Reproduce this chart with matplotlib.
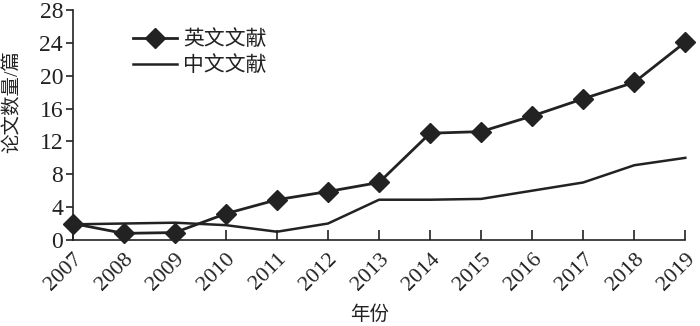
import matplotlib

matplotlib.use("Agg")
import matplotlib.pyplot as plt

plt.rcParams["font.family"] = ["Liberation Serif", "Noto Sans CJK SC"]

years = [2007, 2008, 2009, 2010, 2011, 2012, 2013, 2014, 2015, 2016, 2017, 2018, 2019]
english = [2.0, 0.8, 0.9, 3.2, 4.9, 5.9, 7.0, 13.0, 13.2, 15.1, 17.2, 19.2, 24.1]
chinese = [1.9, 2.0, 2.1, 1.8, 1.0, 2.0, 4.9, 4.9, 5.0, 6.0, 7.0, 9.1, 10.0]
y_ticks = [0, 4, 8, 12, 16, 20, 24, 28]

ink = "#222222"

fig = plt.figure(figsize=(7.0, 3.26), dpi=100)
ax = fig.add_axes([0.104, 0.264, 0.875, 0.705])

ax.plot(years, english, color=ink, lw=2.0, marker="D", ms=10, mfc=ink, mec=ink,
        label="英文文献", clip_on=False, zorder=3)
ax.plot(years, chinese, color=ink, lw=1.8, label="中文文献", clip_on=False, zorder=2)

ax.set_xlim(years[0], years[-1])
ax.set_ylim(0, 28)
ax.set_xticks(years)
ax.set_xticklabels([str(y) for y in years], rotation=45, ha="right",
                   rotation_mode="anchor", fontsize=16)
ax.set_yticks(y_ticks)
ax.set_yticklabels([str(v) for v in y_ticks], fontsize=17)

for side in ("top", "right"):
    ax.spines[side].set_visible(False)
for side in ("left", "bottom"):
    ax.spines[side].set_linewidth(1.2)
    ax.spines[side].set_color(ink)

ax.tick_params(axis="x", direction="in", length=7, width=1.2, pad=7, colors=ink)
ax.tick_params(axis="y", direction="out", length=5, width=1.2, pad=2, colors=ink)

ax.set_ylabel("论文数量/篇", fontsize=14, color=ink, va="center")
ax.yaxis.set_label_coords(-0.098, 0.60)
ax.set_xlabel("年份", fontsize=14, color=ink)
ax.xaxis.set_label_coords(0.485, -0.285)

leg = ax.legend(loc="upper left", bbox_to_anchor=(0.085, 0.95), frameon=False,
                fontsize=15, handlelength=2.1, handletextpad=0.3,
                labelspacing=0.3, borderaxespad=0.0)
for txt in leg.get_texts():
    txt.set_color(ink)

fig.savefig("out.png", dpi=100)
